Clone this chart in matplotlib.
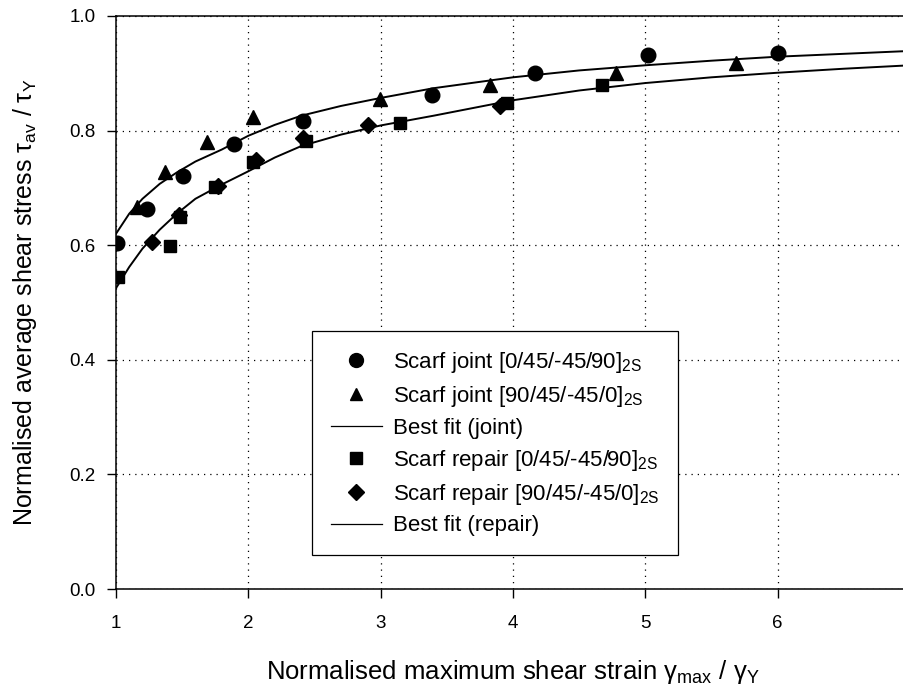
import matplotlib
matplotlib.use("Agg")
import matplotlib.pyplot as plt
from matplotlib.lines import Line2D

plt.rcParams['font.family'] = ['Liberation Sans', 'DejaVu Sans']
plt.rcParams['mathtext.fontset'] = 'custom'
plt.rcParams['mathtext.rm'] = 'Liberation Sans'
plt.rcParams['mathtext.it'] = 'Liberation Sans:italic'

# Scarf joint [0/45/-45/90]2S  (circles)
joint_a_x = [1.005, 1.237, 1.509, 1.892, 2.416, 3.39, 4.167, 5.019, 6.006]
joint_a_y = [0.604, 0.663, 0.721, 0.777, 0.816, 0.862, 0.900, 0.932, 0.935]
# Scarf joint [90/45/-45/0]2S  (triangles)
joint_b_x = [1.156, 1.37, 1.686, 2.033, 2.995, 3.827, 4.78, 5.687]
joint_b_y = [0.667, 0.727, 0.780, 0.824, 0.855, 0.879, 0.900, 0.918]
# Scarf repair [0/45/-45/90]2S  (squares)
repair_a_x = [1.017, 1.408, 1.484, 1.748, 2.038, 2.436, 3.147, 3.953, 4.676]
repair_a_y = [0.544, 0.599, 0.649, 0.701, 0.745, 0.781, 0.814, 0.848, 0.880]
# Scarf repair [90/45/-45/0]2S  (diamonds)
repair_b_x = [1.27, 1.478, 1.773, 2.06, 2.416, 2.907, 3.90]
repair_b_y = [0.606, 0.653, 0.703, 0.749, 0.787, 0.810, 0.843]

# best fit curves
fit_x = [1.0, 1.1, 1.2, 1.33, 1.46, 1.6, 1.8, 2.0, 2.2, 2.4, 2.7, 3.0, 3.4, 4.0, 4.5, 5.0, 5.5, 6.0, 6.5, 7.0]
joint_fit_y = [0.620, 0.655, 0.681, 0.707, 0.727, 0.746, 0.767, 0.791, 0.810, 0.826, 0.843, 0.857, 0.874, 0.893, 0.905, 0.914, 0.922, 0.929, 0.934, 0.939]
repair_fit_y = [0.525, 0.562, 0.594, 0.627, 0.655, 0.681, 0.706, 0.729, 0.753, 0.773, 0.793, 0.809, 0.826, 0.853, 0.870, 0.883, 0.893, 0.901, 0.908, 0.914]

labels = [r'Scarf joint [0/45/-45/90]$_{\mathrm{2S}}$',
          r'Scarf joint [90/45/-45/0]$_{\mathrm{2S}}$',
          'Best fit (joint)',
          r'Scarf repair [0/45/-45/90]$_{\mathrm{2S}}$',
          r'Scarf repair [90/45/-45/0]$_{\mathrm{2S}}$',
          'Best fit (repair)']

fig = plt.figure(figsize=(9.04, 6.92), dpi=100)
ax = fig.add_axes([116/904, 103/692, 794/904, 573/692])

ax.plot(fit_x, joint_fit_y, color='black', lw=1.4, zorder=3)
ax.plot(fit_x, repair_fit_y, color='black', lw=1.4, zorder=3)
ax.plot(joint_a_x, joint_a_y, 'o', color='black', ms=10.5, zorder=4)
ax.plot(joint_b_x, joint_b_y, '^', color='black', ms=10, zorder=4)
ax.plot(repair_a_x, repair_a_y, 's', color='black', ms=9, zorder=4)
ax.plot(repair_b_x, repair_b_y, 'D', color='black', ms=8.5, zorder=4)

ax.set_xlim(1, 7)
ax.set_ylim(0, 1.0)
ax.set_xticks([1, 2, 3, 4, 5, 6])
ax.set_yticks([0.0, 0.2, 0.4, 0.6, 0.8, 1.0])
ax.set_yticklabels(['0.0', '0.2', '0.4', '0.6', '0.8', '1.0'])
ax.grid(True, color='black', linestyle=(0, (1, 4)), lw=0.9)
ax.tick_params(direction='out', length=6.5, width=1, labelsize=13.5)
ax.tick_params(axis='x', pad=12)
ax.tick_params(axis='y', pad=8)
for s in ax.spines.values():
    s.set_linewidth(1.1)

ax.set_xlabel(r'Normalised maximum shear strain γ$_{\mathrm{max}}$ / γ$_{\mathrm{Y}}$', fontsize=18.5, labelpad=19)
ax.set_ylabel(r'Normalised average shear stress τ$_{\mathrm{av}}$ / τ$_{\mathrm{Y}}$', fontsize=18, labelpad=22)

handles = [Line2D([], [], marker='o', ls='none', color='black', ms=10),
           Line2D([], [], marker='^', ls='none', color='black', ms=9),
           Line2D([], [], color='black', lw=0.9),
           Line2D([], [], marker='s', ls='none', color='black', ms=8.5),
           Line2D([], [], marker='D', ls='none', color='black', ms=8),
           Line2D([], [], color='black', lw=0.9)]
leg = ax.legend(handles, labels, loc='upper left', bbox_to_anchor=(0.2465, 0.450),
                fontsize=16, frameon=True, fancybox=False, framealpha=1,
                edgecolor='black', handlelength=2.3, handletextpad=0.5,
                borderpad=0.85, labelspacing=0.4, borderaxespad=0)
leg.get_frame().set_linewidth(0.9)
leg.set_zorder(5)

plt.savefig('out.png', dpi=100)
